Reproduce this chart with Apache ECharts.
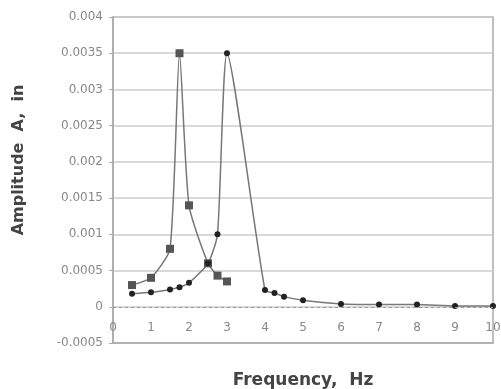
<!DOCTYPE html>
<html>
<head>
<meta charset="utf-8">
<script src="https://cdn.jsdelivr.net/npm/echarts@6/dist/echarts.min.js"></script>
<style>html,body{margin:0;padding:0;background:#fff}#c{width:501px;height:389px}</style>
</head>
<body>
<div id="c"></div>
<script>
var squareFreq = [0.5, 1, 1.5, 1.75, 2, 2.5, 2.75, 3];
var squareAmp  = [0.0003, 0.0004, 0.0008, 0.0035, 0.0014, 0.0006, 0.00043, 0.00035];
var circleFreq = [0.5, 1, 1.5, 1.75, 2, 2.5, 2.75, 3, 4, 4.25, 4.5, 5, 6, 7, 8, 9, 10];
var circleAmp  = [0.00018, 0.0002, 0.00024, 0.00027, 0.00033, 0.0006, 0.001, 0.0035, 0.00023, 0.00019, 0.00014, 0.00009, 0.00004, 0.00003, 0.00003, 0.00001, 0.00001];
var xTitle = 'Frequency,  Hz';
var yTitle = 'Amplitude  A,  in';

function pairs(xs, ys){ return xs.map(function(x,i){ return [x, ys[i]]; }); }

var chart = echarts.init(document.getElementById('c'));
chart.setOption({
  animation: false,
  backgroundColor: '#fff',
  grid: {left: 113, right: 8, top: 17, bottom: 46, show: true, borderColor: '#aaa', borderWidth: 1.5,
         backgroundColor: 'transparent', outerBoundsMode: 'none', containLabel: false},
  xAxis: {
    type: 'value', min: 0, max: 10, interval: 1, position: 'bottom',
    name: xTitle, nameLocation: 'middle', nameGap: 29,
    nameTextStyle: {fontFamily: 'DejaVu Sans', fontWeight: 'bold', fontSize: 17, color: '#444'},
    axisLine: {onZero: false, lineStyle: {color: '#aaa', width: 1.5}},
    axisTick: {show: false},
    axisLabel: {inside: true, margin: 9, fontFamily: 'DejaVu Sans', fontSize: 12, color: '#888'},
    splitLine: {show: false}
  },
  yAxis: {
    type: 'value', min: -0.0005, max: 0.004, interval: 0.0005,
    name: yTitle, nameLocation: 'middle', nameGap: 86, nameRotate: 90,
    nameTextStyle: {fontFamily: 'DejaVu Sans', fontWeight: 'bold', fontSize: 16, color: '#444', padding: [0, 0, 0, 40]},
    axisLine: {show: true, lineStyle: {color: '#aaa', width: 1.5}},
    axisTick: {show: true, length: 4, lineStyle: {color: '#aaa'}},
    axisLabel: {margin: 10, fontFamily: 'DejaVu Sans', fontSize: 12, color: '#888',
      formatter: function(v){ return String(parseFloat(v.toPrecision(6))); }},
    splitLine: {show: true, lineStyle: {color: '#ccc', width: 1.5}}
  },
  series: [
    {
      type: 'line', data: pairs(squareFreq, squareAmp), smooth: 0.2,
      symbol: 'rect', symbolSize: 8,
      itemStyle: {color: '#555'},
      lineStyle: {color: '#777', width: 1.5},
      markLine: {
        silent: true, symbol: 'none', label: {show: false},
        lineStyle: {color: '#999', width: 1, type: [3, 3]},
        data: [{yAxis: 0}]
      }
    },
    {
      type: 'line', data: pairs(circleFreq, circleAmp), smooth: 0.2,
      symbol: 'circle', symbolSize: 6,
      itemStyle: {color: '#222'},
      lineStyle: {color: '#777', width: 1.5}
    }
  ]
});
</script>
</body>
</html>
